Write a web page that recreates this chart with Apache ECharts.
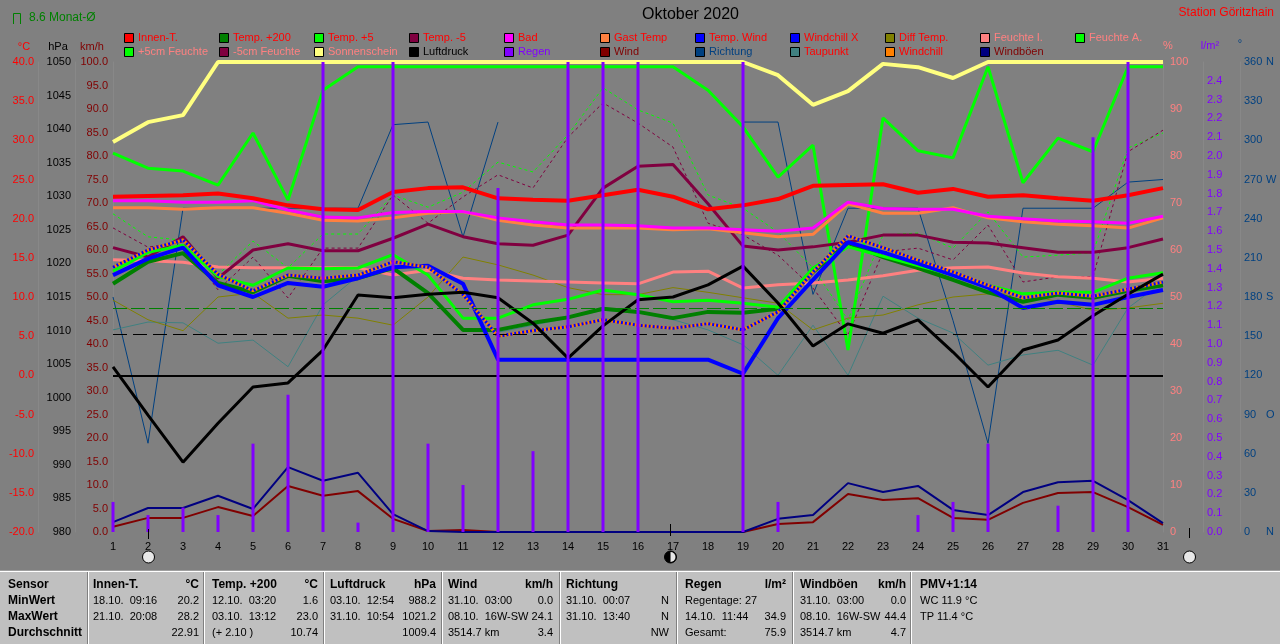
<!DOCTYPE html>
<html><head><meta charset="utf-8">
<script src="https://cdn.jsdelivr.net/npm/echarts@6/dist/echarts.min.js"></script>
<style>html,body{margin:0;padding:0;background:#808080;overflow:hidden}#c{width:1280px;height:644px}</style>
</head><body><div id="c"></div><script>
const FONT = "'Liberation Sans', Arial, sans-serif";
const days = ['1','2','3','4','5','6','7','8','9','10','11','12','13','14','15','16','17','18','19','20','21','22','23','24','25','26','27','28','29','30','31'];
// temperatures (°C)
const innenT   = [22.8,22.9,23.0,23.2,22.6,21.7,21.2,21.1,23.4,23.9,24.0,22.6,22.4,22.3,23.0,23.7,22.8,21.2,21.7,22.5,24.2,24.3,24.4,23.3,23.8,22.8,23.0,22.6,22.3,23.0,23.9];
const temp200  = [11.7,14.5,15.6,11.8,10.6,12.7,12.0,12.4,13.7,10.5,5.8,5.8,6.7,7.4,8.5,8.1,7.3,8.1,8.0,8.5,13.2,16.9,15.1,13.7,12.2,10.6,9.4,10.3,9.9,10.8,11.5];
const temp5    = [13.3,15.7,16.6,12.6,11.5,13.7,13.6,13.7,15.4,12.8,7.3,7.3,9.0,9.7,10.9,10.3,9.4,9.6,9.2,8.7,13.7,16.4,15.2,14.0,12.8,11.5,10.4,10.6,10.6,12.4,13.1];
const tempM5   = [16.3,15.1,17.7,12.4,16.0,16.8,15.9,15.9,17.5,19.3,17.7,16.8,16.6,17.9,23.9,26.7,26.9,21.9,16.5,16.0,16.4,17.0,17.9,17.9,17.0,16.9,16.3,15.7,15.7,16.3,17.4];
const bad      = [22.3,22.3,22.1,22.1,22.3,21.1,20.2,20.1,20.8,20.9,20.9,20.1,19.6,19.2,19.2,19.1,18.8,18.8,18.6,18.4,18.8,22.1,21.3,21.2,21.2,20.3,20.0,19.7,19.6,19.4,20.3];
const gastTemp = [21.4,21.4,21.2,21.4,21.4,20.7,19.8,19.7,20.1,20.7,20.9,19.8,19.2,18.8,18.8,18.8,18.6,18.7,18.2,17.7,18.0,21.9,20.7,20.7,21.4,20.1,19.6,19.3,19.1,18.8,20.1];
const tempWind = [12.8,14.9,16.3,11.5,10.0,11.8,11.3,12.4,13.8,14.0,11.7,2.0,2.0,2.0,2.0,2.0,2.0,2.0,0.2,7.3,12.2,17.0,15.7,14.3,12.8,11.2,8.6,9.4,9.0,10.0,10.9];
const windchill= [13.8,16.0,17.3,12.9,10.8,12.8,12.4,12.8,14.5,13.8,10.3,5.0,5.7,6.2,7.1,6.4,6.0,6.6,5.8,8.1,13.2,17.8,16.3,14.7,13.2,11.5,9.9,10.5,10.1,11.0,11.9];
const diffTemp = [9.6,7.1,5.7,10.0,10.5,7.3,7.7,7.3,6.4,10.0,15.1,14.1,12.8,11.2,10.3,10.3,11.2,10.6,9.9,9.2,5.8,7.3,7.7,9.0,10.0,10.4,10.4,9.4,8.3,8.6,9.2];
const taupunkt = [5.8,6.8,6.7,4.1,4.5,1.1,9.0,12.7,13.5,10.5,5.8,5.5,6.4,7.3,8.3,8.0,7.1,5.8,3.9,0.0,6.4,0.0,10.1,7.3,5.4,1.3,2.6,3.2,1.3,8.6,11.9];
// humidity / sunshine (%)
const feuchteI = [57.9,57.7,57.4,56.4,56.2,56.2,56.2,56.2,54.7,55.7,54.0,53.6,53.4,53.2,53.0,52.8,55.3,55.5,51.9,52.6,53.0,53.6,54.5,55.7,56.2,56.4,55.1,54.3,54.0,53.2,54.0];
const feuchteA = [80.6,77.4,76.8,73.8,84.9,70.6,94.0,99,99,99,99,99,99,99,99,99,99,94.0,86.2,75.5,82.3,38.7,88.1,81.1,79.6,99,74.3,83.8,80.9,99,99];
const feuchteP5= [67.7,62.8,62.1,54.7,61.9,56.2,63.4,63.4,71.7,69.1,72.3,78.7,76.6,84.5,94.5,89.8,87.0,71.7,68.9,63.8,56.2,45.1,63.2,63.6,60.4,68.1,58.5,58.9,59.4,81.7,84.9];
const feuchteM5= [64.7,60.6,61.7,51.5,58.5,49.8,60.4,60.4,71.7,65.7,71.3,76.0,73.2,84.0,91.3,87.0,81.9,65.7,63.2,58.9,51.9,41.9,59.6,60.4,57.9,65.3,53.2,54.3,54.3,80.9,85.5];
const sonne    = [83.0,87.2,88.7,100,100,100,100,100,100,100,100,100,100,100,100,100,100,100,100,97.2,90.9,93.8,99.6,98.9,96.6,100,100,100,100,100,100];
// pressure (hPa)
const luftdruck= [1004.6,997.4,990.4,996.2,1001.6,1002.2,1007.1,1015.3,1014.9,1015.4,1015.7,1014.9,1011.1,1005.9,1010.7,1014.6,1015.0,1016.8,1019.6,1014.1,1007.7,1011.0,1009.6,1011.6,1006.8,1001.6,1007.1,1008.6,1012.2,1015.4,1018.4];
// wind (km/h)
const wind     = [1.1,3.0,3.0,5.3,3.4,9.8,7.7,8.7,2.8,0.2,0.4,0,0,0,0,0,0,0,0,1.7,2.1,8.1,6.8,7.2,3.0,2.6,6.2,8.3,8.5,5.3,1.5];
const boeen    = [2.1,5.1,5.1,7.7,4.9,13.8,10.9,12.6,3.8,0.2,0,0,0,0,0,0,0,0,0,2.8,3.6,10.4,8.5,9.8,4.7,3.6,8.5,10.6,10.9,6.8,1.9];
// direction (°)
const richtung = [180,68,248,248,248,248,248,248,312,314,226,314,null,null,null,null,null,null,314,314,182,248,248,248,162,68,248,248,248,268,270];
// rain (l/m²)
const regen    = [0.16,0.09,0.13,0.09,0.47,0.73,6.2,0.05,8.1,0.47,0.25,1.83,0.43,34.9,5.4,4.8,0,0,3.9,0.16,0,0,0,0.09,0.16,0.47,0,0.14,2.1,4.8,0];
// reference values
const monatMittel = 8.6;
const druckMittel = 1009.4;
const dirNames = {0:'N',90:'O',180:'S',270:'W',360:'N'};

const legendRow1 = [['Innen-T.','#ff0000','#ff0000'],['Temp. +200','#008000','#ff0000'],['Temp. +5','#00ff00','#ff0000'],['Temp. -5','#800040','#ff0000'],['Bad','#ff00ff','#ff0000'],['Gast Temp','#ff8040','#ff0000'],['Temp. Wind','#0000ff','#ff0000'],['Windchill X','#0000ff','#ff0000'],['Diff Temp.','#808000','#ff0000'],['Feuchte I.','#ff8080','#ff8080'],['Feuchte A.','#00ff00','#ff8080']];
const legendRow2 = [['+5cm Feuchte','#00ff00','#ff8080'],['-5cm Feuchte','#800040','#ff8080'],['Sonnenschein','#ffff80','#ff8080'],['Luftdruck','#000000','#000000'],['Regen','#8000ff','#8000ff'],['Wind','#800000','#800000'],['Richtung','#004080','#004080'],['Taupunkt','#408080','#ff0000'],['Windchill','#ff8000','#ff0000'],['Windböen','#000080','#800000']];

// table texts
const tableLabels = ['Sensor','MinWert','MaxWert','Durchschnitt'];
const tableCols = [
  {x:93,  r:199, head:'Innen-T.',   unit:'°C',   left:['18.10.  09:16','21.10.  20:08',''],   right:['20.2','28.2','22.91']},
  {x:212, r:318, head:'Temp. +200', unit:'°C',   left:['12.10.  03:20','03.10.  13:12','(+ 2.10 )'], right:['1.6','23.0','10.74']},
  {x:330, r:436, head:'Luftdruck',  unit:'hPa',  left:['03.10.  12:54','31.10.  10:54',''],   right:['988.2','1021.2','1009.4']},
  {x:448, r:553, head:'Wind',       unit:'km/h', left:['31.10.  03:00','08.10.  16W-SW','3514.7 km'], right:['0.0','24.1','3.4']},
  {x:566, r:669, head:'Richtung',   unit:'',     left:['31.10.  00:07','31.10.  13:40',''],   right:['N','N','NW']},
  {x:685, r:786, head:'Regen',      unit:'l/m²', left:['Regentage: 27','14.10.  11:44','Gesamt:'], right:['','34.9','75.9']},
  {x:800, r:906, head:'Windböen',   unit:'km/h', left:['31.10.  03:00','08.10.  16W-SW','3514.7 km'], right:['0.0','44.4','4.7']},
  {x:920, r:1270,head:'PMV+1:14',   unit:'',     left:['WC 11.9 °C','TP 11.4 °C',''],        right:['','','']}
];
const tableSeps = [88,204,324,442,560,677,793,911];
const tableRowsY = [585,601,617,633];

const G = [];
function txt(x,y,text,fill,size,o){
  o=o||{};
  G.push({type:'text',x:x,y:y,silent:true,z:100,style:{text:text,fill:fill,
    font:(o.italic?'italic ':'')+(o.bold?'bold ':'')+size+'px '+FONT,
    textAlign:o.align||'left',textVerticalAlign:'middle',align:o.align||'left',verticalAlign:'middle'}});
}
function ln(x1,y1,x2,y2,c,w){G.push({type:'line',silent:true,z:100,shape:{x1:x1,y1:y1,x2:x2,y2:y2},style:{stroke:c,lineWidth:w||1}});}
function rc(x,y,w,h,f,s){G.push({type:'rect',silent:true,z:99,shape:{x:x,y:y,width:w,height:h},style:{fill:f,stroke:s||null,lineWidth:1}});}

// title etc
txt(642,15,'Oktober 2020','#000',16);
txt(1274,13,'Station Göritzhain','#ff0000',12,{align:'right'});
G.push({type:'polyline',silent:true,z:100,shape:{points:[[13.5,24],[13.5,13.5],[20.5,13.5],[20.5,24]]},style:{stroke:'#008000',fill:null,lineWidth:1}});
txt(29,18,monatMittel.toFixed(1)+' Monat-Ø','#008000',12);
// axis headers
txt(24,47,'°C','#ff0000',11,{align:'center'});
txt(58,47,'hPa','#000000',11,{align:'center'});
txt(92,47,'km/h','#800000',11,{align:'center'});
txt(1168,46,'%','#ff8080',11,{align:'center'});
txt(1210,46,'l/m²','#8000ff',11,{align:'center'});
txt(1240,44,'°','#004080',11,{align:'center'});
// legend
function legendRow(arr,y){
  arr.forEach(function(e,i){
    const sx = 124 + i*95.1;
    rc(Math.round(sx)+0.5, y-4.5, 9, 9, e[1], '#000');
    txt(Math.round(sx)+14, y, e[0], e[2], 11);
  });
}
legendRow(legendRow1,38);
legendRow(legendRow2,52);
// moon markers
ln(148.5,529,148.5,539,'#000',1);
G.push({type:'circle',silent:true,z:100,shape:{cx:148.5,cy:557,r:6},style:{fill:'#e8e8e8',stroke:'#000',lineWidth:1}});
ln(670.5,524,670.5,536,'#000',1);
G.push({type:'circle',silent:true,z:100,shape:{cx:670.5,cy:557,r:6},style:{fill:'#000',stroke:'#000',lineWidth:1}});
G.push({type:'sector',silent:true,z:101,shape:{cx:670.5,cy:557,r:5,r0:0,startAngle:-Math.PI/2,endAngle:Math.PI/2},style:{fill:'#e8e8e8'}});
ln(1189.5,528,1189.5,538,'#000',1);
G.push({type:'circle',silent:true,z:100,shape:{cx:1189.5,cy:557,r:6},style:{fill:'#e8e8e8',stroke:'#000',lineWidth:1}});
// table
rc(0,571,1280,73,'#c0c0c0');
ln(0,571.5,1280,571.5,'#ffffff',1);
ln(0,570.5,1280,570.5,'#a0a0a0',1);
tableSeps.forEach(function(x){ ln(x-0.5,572,x-0.5,644,'#808080',1); ln(x+0.5,572,x+0.5,644,'#ffffff',1); });
tableLabels.forEach(function(t,i){ txt(8,tableRowsY[i],t,'#000',12,{bold:true}); });
tableCols.forEach(function(c){
  txt(c.x,tableRowsY[0],c.head,'#000',12,{bold:true});
  if(c.unit) txt(c.r,tableRowsY[0],c.unit,'#000',12,{bold:true,align:'right'});
  for(let i=0;i<3;i++){
    if(c.left[i]) txt(c.x,tableRowsY[i+1],c.left[i],'#000',11);
    if(c.right[i]) txt(c.r,tableRowsY[i+1],c.right[i],'#000',11,{align:'right'});
  }
});

function line(name,data,yi,color,width,type,z){
  return {name:name,type:'line',data:data,yAxisIndex:yi,showSymbol:false,symbol:'none',silent:true,
    lineStyle:{color:color,width:width,type:type||'solid'},itemStyle:{color:color},z:z||2,connectNulls:false};
}
const sInnen = line('Innen-T.',innenT,0,'#ff0000',4,'solid',3);
sInnen.markLine = {silent:true,symbol:'none',label:{show:false},animation:false,
  data:[{yAxis:0,lineStyle:{color:'#000',width:2,type:'solid'}},{yAxis:monatMittel,lineStyle:{color:'#008000',width:1,type:[14,4]}}]};
const sDruck = line('Luftdruck',luftdruck,1,'#000000',3,'solid',4);
sDruck.markLine = {silent:true,symbol:'none',label:{show:false},animation:false,
  data:[{yAxis:druckMittel,lineStyle:{color:'#000',width:1,type:[14,6]}}]};

const series = [
  line('Richtung',richtung,5,'#004080',1),
  line('Taupunkt',taupunkt,0,'#408080',1),
  line('Diff Temp.',diffTemp,0,'#808000',1),
  line('+5cm Feuchte',feuchteP5,3,'#00ff00',1,[3,3]),
  line('-5cm Feuchte',feuchteM5,3,'#800040',1,[3,3]),
  line('Feuchte I.',feuchteI,3,'#ff8080',3),
  line('Feuchte A.',feuchteA,3,'#00ff00',3),
  line('Sonnenschein',sonne,3,'#ffff80',4),
  line('Temp. -5',tempM5,0,'#800040',3),
  line('Gast Temp',gastTemp,0,'#ff8040',3),
  line('Bad',bad,0,'#ff00ff',3),
  sInnen,
  line('Temp. +200',temp200,0,'#008000',4,'solid',3),
  line('Temp. +5',temp5,0,'#00ff00',3,'solid',3),
  line('Temp. Wind',tempWind,0,'#0000ff',4,'solid',3),
  line('Windchill',windchill,0,'#ff8000',3,'solid',3),
  line('Windchill X',windchill,0,'#0000ff',3,[2,2],3),
  sDruck,
  line('Wind',wind,2,'#800000',2,'solid',4),
  line('Windböen',boeen,2,'#000080',2,'solid',4),
  {name:'Regen',type:'bar',data:regen,yAxisIndex:4,barWidth:3,itemStyle:{color:'#8000ff'},z:5,silent:true,clip:true}
];

function yAx(o){
  return Object.assign({type:'value',scale:false,splitLine:{show:false},axisTick:{show:false},
    axisLine:{show:true,lineStyle:{color:'#888888',width:1}}},o);
}
const lab = function(color,fmt,margin){return {color:color,fontSize:11,fontFamily:FONT,margin:margin,formatter:fmt};};
const option = {
  animation:false,
  backgroundColor:'#808080',
  textStyle:{fontFamily:FONT},
  grid:{left:113,right:117,top:62,bottom:112,containLabel:false},
  xAxis:{type:'category',data:days,boundaryGap:false,
    axisLine:{show:true,lineStyle:{color:'#888888'}},axisTick:{show:false},
    axisLabel:{color:'#000',fontSize:11,fontFamily:FONT,interval:0,margin:9},splitLine:{show:false}},
  yAxis:[
    yAx({min:-20,max:40,interval:5,position:'left',offset:75,axisLabel:lab('#ff0000',function(v){return v.toFixed(1);},4)}),
    yAx({min:980,max:1050,interval:5,position:'left',offset:38,axisLabel:lab('#000000',function(v){return String(v);},4)}),
    yAx({min:0,max:100,interval:5,position:'left',offset:0,axisLabel:lab('#800000',function(v){return v.toFixed(1);},5)}),
    yAx({min:0,max:100,interval:10,position:'right',offset:0,axisLabel:lab('#ff8080',function(v){return String(v);},7)}),
    yAx({min:0,max:2.5,interval:0.1,position:'right',offset:40,axisLabel:lab('#8000ff',function(v){return v>2.45?'':v.toFixed(1);},4)}),
    yAx({min:0,max:360,interval:30,position:'right',offset:77,axisLabel:{color:'#004080',fontSize:11,fontFamily:FONT,margin:4,
      formatter:function(v){return '{n|'+v+'}'+(dirNames[v]?'{d|'+dirNames[v]+'}':'');},
      rich:{n:{width:22,color:'#004080',fontSize:11,fontFamily:FONT},d:{color:'#004080',fontSize:11,fontFamily:FONT}}}})
  ],
  series:series,
  graphic:G
};
const chart = echarts.init(document.getElementById('c'),null,{renderer:'canvas'});
chart.setOption(option);
</script></body></html>
